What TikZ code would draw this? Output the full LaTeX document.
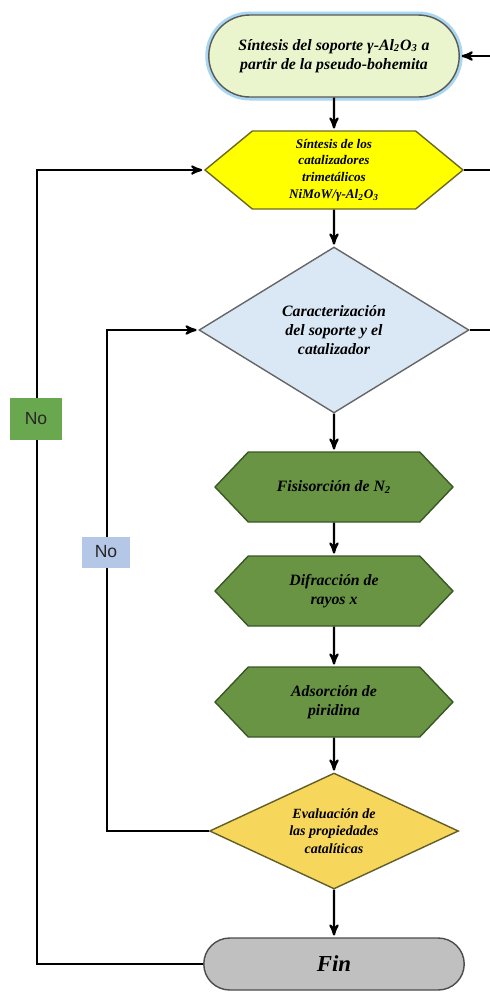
\documentclass[tikz,border=0pt]{standalone}
\usepackage{fontspec}
\setmainfont{Liberation Serif}
\newfontfamily\labelfont{Liberation Sans}
\usetikzlibrary{arrows,shapes.geometric,shapes.misc,shapes.symbols}

\definecolor{startfill}{RGB}{234,245,205}
\definecolor{startglow}{RGB}{170,215,240}
\definecolor{hexyellow}{RGB}{255,255,0}
\definecolor{diafill}{RGB}{218,232,245}
\definecolor{hexgreen}{RGB}{104,148,67}
\definecolor{hexgreendraw}{RGB}{58,88,38}
\definecolor{evalfill}{RGB}{247,214,92}
\definecolor{finfill}{RGB}{192,192,192}
\definecolor{nogreen}{RGB}{106,168,79}
\definecolor{noblue}{RGB}{180,199,231}

\begin{document}
\begin{tikzpicture}[x=0.02cm,y=-0.02cm,>=stealth',line width=1.2pt,
                    flow/.style={->,black,shorten >=1pt},
                    link/.style={-,black}]
  \tikzset{every node/.style={align=center,font=\bfseries\itshape,inner sep=1pt},
           startbox/.style={rounded rectangle,fill=startfill,draw=gray!70!black,line width=0.8pt,
                            preaction={draw=startglow,line width=4pt},
                            minimum width=5.08cm,minimum height=1.64cm,font=\fontsize{9}{11}\selectfont\bfseries\itshape},
           hexbox/.style={signal,signal to=east and west,signal from=nowhere,line width=0.8pt},
           synthbox/.style={hexbox,fill=hexyellow,draw=olive!70!black,signal pointer angle=79,
                            minimum width=5.16cm,minimum height=1.56cm,font=\fontsize{7.5}{9.5}\selectfont\bfseries\itshape},
           testbox/.style={hexbox,fill=hexgreen,draw=hexgreendraw,signal pointer angle=93,
                           minimum width=4.76cm,minimum height=1.4cm,font=\fontsize{9}{11}\selectfont\bfseries\itshape},
           decision/.style={diamond,aspect=2.1,line width=0.8pt,inner sep=0pt},
           endbox/.style={rounded rectangle,fill=finfill,draw=gray!60!black,line width=0.8pt,
                          minimum width=5.28cm,minimum height=1.04cm,font=\fontsize{13}{15}\selectfont\bfseries\itshape},
           nolabel/.style={font=\labelfont\fontsize{10}{12}\selectfont,text=black!85}}
  \useasboundingbox (0,0) rectangle (490,992);

  % main column
  \node[startbox] (start) at (334,56)
    {Síntesis del soporte γ-Al\textsubscript{2}O\textsubscript{3} a\\partir de la pseudo-bohemita};
  \node[synthbox] (synth) at (334,170)
    {Síntesis de los\\catalizadores\\trimetálicos\\NiMoW/γ-Al\textsubscript{2}O\textsubscript{3}};
  \node[decision,fill=diafill,draw=gray!80!black,minimum width=5.4cm,minimum height=3.32cm,
        font=\fontsize{9}{11}\selectfont\bfseries\itshape] (charac) at (334,330)
    {Caracterización\\del soporte y el\\catalizador};
  \node[testbox] (fisi) at (334,487) {Fisisorción de N\textsubscript{2}};
  \node[testbox] (difr) at (334,591) {Difracción de\\rayos x};
  \node[testbox] (adso) at (334,702) {Adsorción de\\piridina};
  \node[decision,fill=evalfill,draw=olive!60!black,minimum width=4.98cm,minimum height=2.32cm,
        font=\fontsize{8}{10}\selectfont\bfseries\itshape] (evalu) at (334,831)
    {Evaluación de\\las propiedades\\catalíticas};
  \node[endbox] (fin) at (334,964) {Fin};

  % free ends on the right and loop columns
  \coordinate (rtop) at (490,56);
  \coordinate (rsynth) at (490,170);
  \coordinate (rcharac) at (490,330);
  \coordinate (outer) at (37,0);
  \coordinate (inner) at (107,0);

  \draw[flow] (start) -- (synth);
  \draw[flow] (synth) -- (charac);
  \draw[flow] (charac) -- (fisi);
  \draw[flow] (fisi) -- (difr);
  \draw[flow] (difr) -- (adso);
  \draw[flow] (adso) -- (evalu);
  \draw[flow] (evalu) -- (fin);

  \draw[flow] (rtop) -- (start.east);
  \draw[link] (synth.east) -- (rsynth);
  \draw[link] (charac.east) -- (rcharac);

  % loops back
  \draw[flow] (fin.west) -- (fin.west -| outer) -- (synth.west -| outer) -- (synth.west);
  \draw[flow] (evalu.west) -- (evalu.west -| inner) -- (charac.west -| inner) -- (charac.west);

  \node[nolabel,fill=nogreen,minimum width=1.04cm,minimum height=0.84cm] (noouter) at (36,419) {No};
  \node[nolabel,fill=noblue,minimum width=0.96cm,minimum height=0.62cm] (noinner) at (106,552) {No};
\end{tikzpicture}
\end{document}
